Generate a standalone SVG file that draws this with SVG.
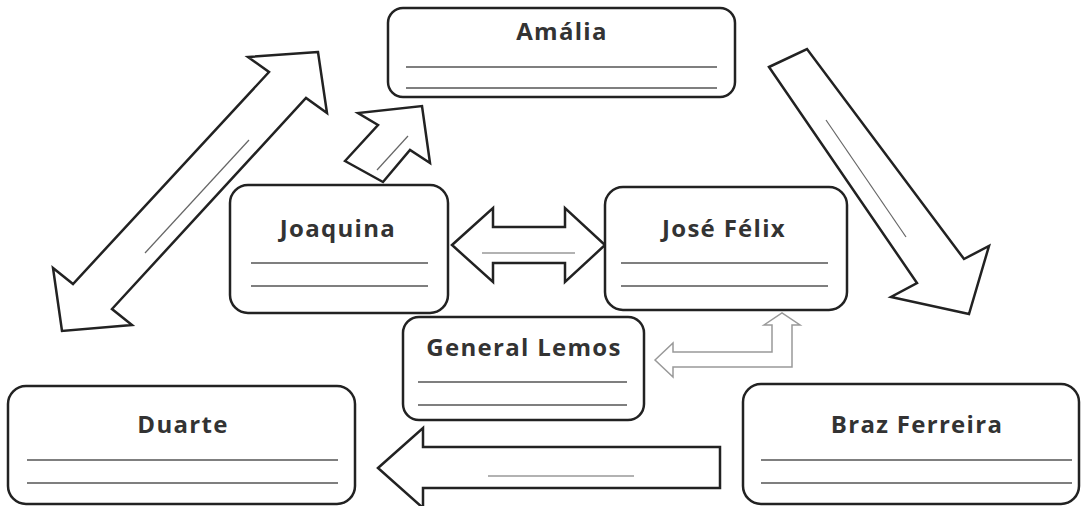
<svg xmlns="http://www.w3.org/2000/svg" width="1083" height="506" viewBox="0 0 1083 506">
<style>
.box{fill:#fff;stroke:#222;stroke-width:2.5}
.lbl{font-family:"Open Sans","DejaVu Sans",sans-serif;font-weight:700;font-size:24px;letter-spacing:1.3px;fill:#333;text-anchor:middle}
.ln{stroke:#555;stroke-width:1.5}
.arr{fill:#fff;stroke:#222;stroke-width:2.5;stroke-linejoin:miter}
.arrg{fill:#fff;stroke:#999;stroke-width:1.5}
.inner{stroke:#666;stroke-width:1.2}
</style>
<rect width="1083" height="506" fill="#fff"/>
<g id="connectors">
  <polygon class="arr" points="318,52 248,57 269,72 73,284 53,268 62,331 132,325 112,309 306,98 327,113"/>
  <line class="inner" x1="145" y1="253" x2="249" y2="140"/>
  <polygon class="arr" points="345,161 378,125 358,113 422,106 430,163 410,150 383,182"/>
  <line class="inner" x1="377" y1="170" x2="408" y2="136"/>
  <polygon class="arr" points="769,67 807,49 964,259 989,246 969,314 891,297 917,283"/>
  <line class="inner" x1="826" y1="120" x2="906" y2="237"/>
  <polygon class="arr" points="452,245 493,208 493,227 565,227 565,208 605,245 565,282 565,263 493,263 493,282"/>
  <line class="inner" x1="482" y1="253" x2="575" y2="253"/>
  <polygon class="arrg" points="655,360 673,343 673,352 772,352 772,325 764,325 782,313 800,325 792,325 792,367 673,367 673,377"/>
  <polygon class="arr" points="378,468 423,428 423,447 720,447 720,488 423,488 423,508"/>
  <line class="inner" x1="488" y1="476" x2="634" y2="476"/>
</g>
<g id="amalia">
  <rect class="box" x="388" y="8" width="347" height="89" rx="15"/>
  <text class="lbl" x="562" y="40">Amália</text>
  <line class="ln" x1="406" y1="67" x2="717" y2="67"/>
  <line class="ln" x1="406" y1="88" x2="717" y2="88"/>
</g>
<g id="joaquina">
  <rect class="box" x="230" y="185" width="218" height="128" rx="18"/>
  <text class="lbl" x="338" y="237">Joaquina</text>
  <line class="ln" x1="251" y1="263" x2="428" y2="263"/>
  <line class="ln" x1="251" y1="286" x2="428" y2="286"/>
</g>
<g id="jose-felix">
  <rect class="box" x="605" y="187" width="242" height="123" rx="18"/>
  <text class="lbl" x="724" y="237">José Félix</text>
  <line class="ln" x1="621" y1="263" x2="828" y2="263"/>
  <line class="ln" x1="621" y1="286" x2="828" y2="286"/>
</g>
<g id="general-lemos">
  <rect class="box" x="403" y="317" width="241" height="103" rx="16"/>
  <text class="lbl" x="524" y="356">General Lemos</text>
  <line class="ln" x1="418" y1="382" x2="627" y2="382"/>
  <line class="ln" x1="418" y1="405" x2="627" y2="405"/>
</g>
<g id="duarte">
  <rect class="box" x="8" y="386" width="347" height="118" rx="18"/>
  <text class="lbl" x="183" y="433">Duarte</text>
  <line class="ln" x1="27" y1="460" x2="338" y2="460"/>
  <line class="ln" x1="27" y1="483" x2="338" y2="483"/>
</g>
<g id="braz-ferreira">
  <rect class="box" x="743" y="384" width="336" height="120" rx="18"/>
  <text class="lbl" x="917" y="433">Braz Ferreira</text>
  <line class="ln" x1="761" y1="460" x2="1072" y2="460"/>
  <line class="ln" x1="761" y1="483" x2="1072" y2="483"/>
</g>
</svg>
